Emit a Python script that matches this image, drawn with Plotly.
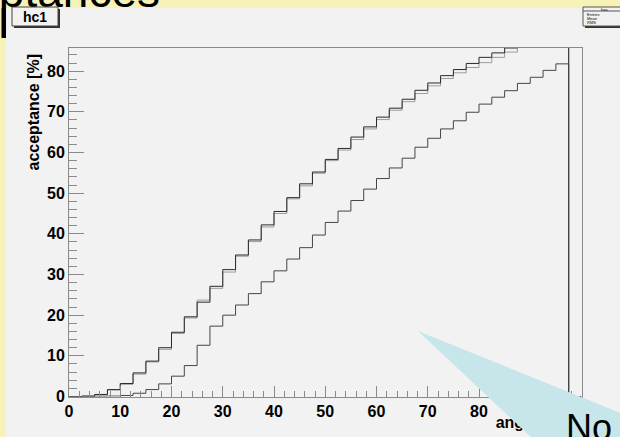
import numpy as np
import plotly.graph_objects as go

# ---------------- data ----------------
bin_edges = np.arange(0, 100.01, 2.5)          # 40 bins of 2.5 deg
acc_a = [0.0, 0.1, 0.5, 1.7, 3.2, 5.8, 8.7, 12.0, 15.8, 19.6,
         23.2, 27.1, 31.2, 34.8, 38.5, 42.2, 45.5, 48.9, 52.3, 55.2,
         58.3, 61.0, 63.8, 66.3, 68.7, 70.9, 73.1, 75.3, 77.1, 78.9,
         80.4, 81.9, 83.4, 84.5, 85.7, 87.0, 88.2, 89.3, 90.3, 0.0]
acc_b = [0.0, 0.1, 0.4, 1.6, 3.0, 5.5, 8.5, 11.6, 15.5, 19.3,
         23.7, 26.6, 30.6, 34.5, 38.1, 41.7, 45.0, 48.6, 51.8, 54.9,
         58.0, 60.6, 63.2, 65.8, 68.1, 70.4, 72.5, 74.5, 76.4, 78.2,
         79.6, 80.9, 82.1, 83.4, 84.7, 85.9, 87.0, 88.1, 89.2, 0.0]
acc_c = [0.0, 0.0, 0.05, 0.1, 0.25, 0.8, 1.7, 3.1, 5.0, 7.6,
         12.6, 17.3, 20.0, 22.5, 25.3, 28.2, 30.9, 33.8, 36.6, 39.7,
         42.8, 45.6, 48.2, 51.0, 53.6, 56.2, 58.6, 61.3, 63.5, 65.8,
         67.8, 69.9, 71.9, 73.6, 75.2, 77.0, 78.5, 80.2, 81.8, 0.0]
x_tickvals = [0, 10, 20, 30, 40, 50, 60, 70, 80, 90, 100]
x_ticktext = ["0", "10", "20", "30", "40", "50", "60", "70", "80", "90", "100"]
y_tickvals = [0, 10, 20, 30, 40, 50, 60, 70, 80]
y_ticktext = ["0", "10", "20", "30", "40", "50", "60", "70", "80"]

W, H = 620, 437
def fx(p):  # pixel x -> paper fraction
    return p / W
def fy(p):  # pixel y (from top) -> paper fraction
    return 1 - p / H

AXC = "#8a8a8a"
FONT = "Liberation Sans"

fig = go.Figure()

def steps(v):
    return list(v) + [v[-1]]

for vals, col in [(acc_b, "#9c9c9c"), (acc_a, "#2a2a2a"), (acc_c, "#454545")]:
    fig.add_trace(go.Scatter(x=bin_edges, y=steps(vals), mode="lines",
                             line=dict(color=col, width=1, shape="hv"),
                             xaxis="x", yaxis="y", hoverinfo="skip",
                             showlegend=False))

# slide title (clipped by the top strip)
fig.add_trace(go.Scatter(x=[160], y=[-4.5], text=["Acceptances"], mode="text",
                         textposition="middle left",
                         textfont=dict(family=FONT, size=46, color="black"),
                         xaxis="x2", yaxis="y2", cliponaxis=True,
                         hoverinfo="skip", showlegend=False))

# overlay: axis title, callout, callout text
fig.add_trace(go.Scatter(x=[581], y=[424], text=["angle [deg]"], mode="text",
                         textposition="middle left",
                         textfont=dict(family=FONT, size=16, color="black", weight="bold"),
                         xaxis="x3", yaxis="y3", cliponaxis=True,
                         hoverinfo="skip", showlegend=False))
fig.add_trace(go.Scatter(x=[418, 622, 622, 533, 418], y=[331, 413.5, 439, 439, 331],
                         mode="lines", fill="toself", fillcolor="#c7e6ea",
                         line=dict(width=0, color="#c7e6ea"),
                         xaxis="x3", yaxis="y3", hoverinfo="skip", showlegend=False))
fig.add_trace(go.Scatter(x=[566], y=[431], text=["No"], mode="text",
                         textposition="middle right",
                         textfont=dict(family=FONT, size=36, color="black"),
                         xaxis="x3", yaxis="y3", cliponaxis=True,
                         hoverinfo="skip", showlegend=False))

tickfont = dict(family=FONT, size=16, color="black", weight="bold")

fig.update_layout(
    template="none",
    width=W, height=H, autosize=False,
    margin=dict(l=0, r=0, t=0, b=0, pad=0),
    paper_bgcolor="#f6f2b8", plot_bgcolor="rgba(0,0,0,0)",
    showlegend=False,
    xaxis=dict(domain=[fx(69), fx(581.5)], range=[0, 100], automargin=False,
               tickmode="array", tickvals=x_tickvals, ticktext=x_ticktext,
               ticks="inside", ticklen=11, tickwidth=1, tickcolor=AXC,
               showline=True, linecolor=AXC, linewidth=1, mirror=True,
               showgrid=False, zeroline=False, tickfont=tickfont,
               minor=dict(tickmode="linear", tick0=0, dtick=2, ticks="inside",
                          ticklen=5.5, tickwidth=1, tickcolor=AXC, showgrid=False),
               fixedrange=True),
    yaxis=dict(domain=[fy(396.5), fy(48)], range=[0, 85.7], automargin=False,
               tickmode="array", tickvals=y_tickvals, ticktext=y_ticktext,
               ticks="inside", ticklen=15, tickwidth=1, tickcolor=AXC,
               showline=True, linecolor=AXC, linewidth=1, mirror=True,
               showgrid=False, zeroline=False, tickfont=tickfont,
               minor=dict(tickmode="linear", tick0=0, dtick=2, ticks="inside",
                          ticklen=7.5, tickwidth=1, tickcolor=AXC, showgrid=False),
               fixedrange=True),
    xaxis2=dict(domain=[0, 1], range=[0, W], visible=False, fixedrange=True,
                anchor="y2", automargin=False),
    yaxis2=dict(domain=[fy(8), 1], range=[8, 0], visible=False, fixedrange=True,
                anchor="x2", automargin=False),
    xaxis3=dict(domain=[0, 1], range=[0, W], visible=False, fixedrange=True,
                anchor="y3", automargin=False),
    yaxis3=dict(domain=[0, 1], range=[H, 0], visible=False, fixedrange=True,
                anchor="x3", automargin=False),
)

shapes = [
    # grey canvas
    dict(type="rect", xref="paper", yref="paper", x0=fx(6), x1=1, y0=0, y1=fy(8),
         fillcolor="#f2f2f2", line=dict(width=0), layer="below"),
    # black bar at left
    dict(type="rect", xref="paper", yref="paper", x0=fx(1.5), x1=fx(6), y0=fy(38), y1=fy(8),
         fillcolor="black", line=dict(width=0), layer="above"),
    # hc1 box shadow + box
    dict(type="rect", xref="paper", yref="paper", x0=fx(14), x1=fx(60), y0=fy(28), y1=fy(9),
         fillcolor="#333333", line=dict(width=0), layer="above"),
    dict(type="rect", xref="paper", yref="paper", x0=fx(12), x1=fx(58), y0=fy(26), y1=fy(7),
         fillcolor="#f2f2f2", line=dict(width=1, color="#444444"), layer="above"),
    # stats box shadow + box
    dict(type="rect", xref="paper", yref="paper", x0=fx(585), x1=fx(622), y0=fy(28), y1=fy(9),
         fillcolor="#333333", line=dict(width=0), layer="above"),
    dict(type="rect", xref="paper", yref="paper", x0=fx(583), x1=fx(621), y0=fy(26), y1=fy(7),
         fillcolor="#f2f2f2", line=dict(width=1, color="#555555"), layer="above"),
    dict(type="line", xref="paper", yref="paper", x0=fx(583), x1=fx(621), y0=fy(11), y1=fy(11),
         line=dict(width=1, color="#555555"), layer="above"),
]

annotations = [
    dict(x=fx(35), y=fy(16.5), xref="paper", yref="paper", text="<b>hc1</b>", showarrow=False,
         font=dict(family=FONT, size=14, color="black"), xanchor="center", yanchor="middle"),
    dict(x=fx(33), y=fy(52), xref="paper", yref="paper", text="<b>acceptance [%]</b>",
         showarrow=False, textangle=-90, font=dict(family=FONT, size=16, color="black"),
         xanchor="center", yanchor="top"),
    dict(x=fx(604), y=fy(9), xref="paper", yref="paper", text="hsa", showarrow=False,
         font=dict(family=FONT, size=4, color="black"), xanchor="center", yanchor="middle"),
    dict(x=fx(585), y=fy(14), xref="paper", yref="paper", text="Entries", showarrow=False,
         font=dict(family=FONT, size=4, color="black"), xanchor="left", yanchor="middle"),
    dict(x=fx(585), y=fy(18.5), xref="paper", yref="paper", text="Mean", showarrow=False,
         font=dict(family=FONT, size=4, color="black"), xanchor="left", yanchor="middle"),
    dict(x=fx(585), y=fy(23), xref="paper", yref="paper", text="RMS", showarrow=False,
         font=dict(family=FONT, size=4, color="black"), xanchor="left", yanchor="middle"),
]

fig.update_layout(shapes=shapes, annotations=annotations)
fig.write_html("out.html", config={"displayModeBar": False},
               post_script="document.body.style.margin='0';document.body.style.overflow='hidden';")
